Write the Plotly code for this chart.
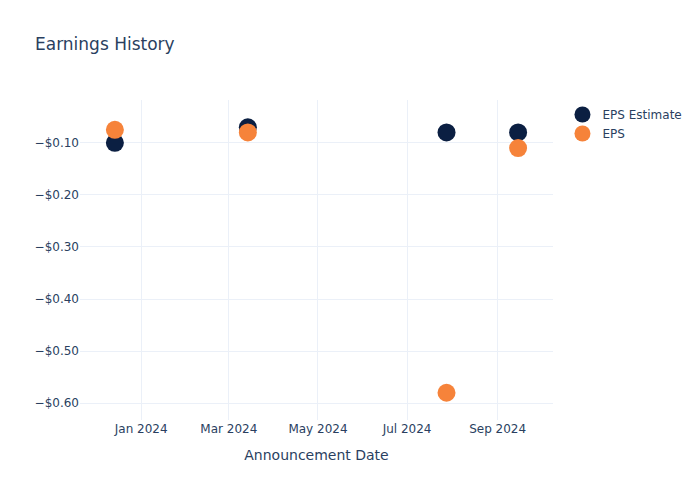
import plotly.graph_objects as go

dates = ["2023-12-14", "2024-03-14", "2024-07-28", "2024-09-15"]
eps_estimate = [-0.10, -0.07, -0.08, -0.08]
eps_actual = [-0.075, -0.08, -0.58, -0.11]

fig = go.Figure()
fig.add_trace(go.Scatter(x=dates, y=eps_estimate, mode="markers", name="EPS Estimate",
                         marker=dict(color="#0b1f42", size=18)))
fig.add_trace(go.Scatter(x=dates, y=eps_actual, mode="markers", name="EPS",
                         marker=dict(color="#f6833a", size=18)))
fig.update_layout(
    template="plotly_white",
    width=700, height=500,
    font=dict(family="DejaVu Sans"),
    margin=dict(l=72, r=155, t=92, b=88, autoexpand=False),
    title=dict(text="Earnings History", x=27/700, xanchor="left",
               y=1 - 36/500, yanchor="middle"),
    xaxis=dict(title="Announcement Date"),
    yaxis=dict(tickformat="$.2f"),
)
fig.write_html("out.html")
